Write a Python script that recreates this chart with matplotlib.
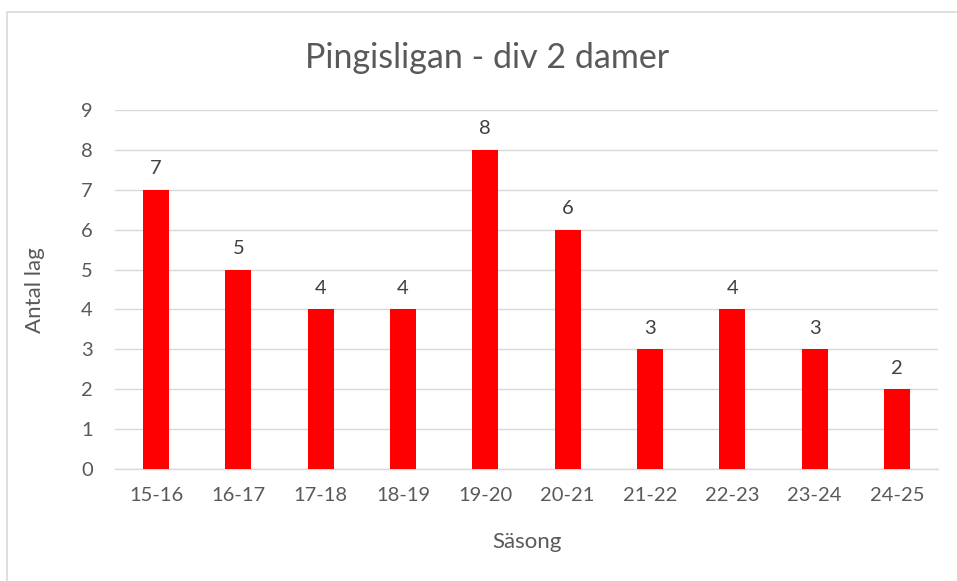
import matplotlib
matplotlib.use("Agg")
import matplotlib.pyplot as plt
from matplotlib.patches import Rectangle

seasons = ["15-16", "16-17", "17-18", "18-19", "19-20", "20-21", "21-22", "22-23", "23-24", "24-25"]
teams = [7, 5, 4, 4, 8, 6, 3, 4, 3, 2]
yticks = list(range(0, 10))

plt.rcParams['font.family'] = ['Lato', 'DejaVu Sans']
txt = '#595959'

W, H = 957, 581
fig = plt.figure(figsize=(W/100, H/100), dpi=100)
ax = fig.add_axes([115/W, (H-469)/H, 823/W, 359/H])

x = range(len(seasons))
bars = ax.bar(x, teams, width=0.316, color='#FF0000', zorder=3)
for xi, v in zip(x, teams):
    ax.annotate(str(v), (xi, v), xytext=(0, 9), textcoords='offset points',
                ha='center', va='bottom', fontsize=14.5, color='#404040')

ax.set_xlim(-0.5, len(seasons) - 0.5)
ax.set_ylim(0, 9)
ax.set_yticks(yticks)
ax.set_xticks(list(x))
ax.set_xticklabels(seasons)
ax.tick_params(axis='both', length=0, labelsize=14.5, labelcolor=txt)
ax.tick_params(axis='x', pad=13)
ax.tick_params(axis='y', pad=16)
ax.grid(axis='y', color='#D9D9D9', linewidth=1, zorder=0)
for s in ['top', 'right', 'left']:
    ax.spines[s].set_visible(False)
ax.spines['bottom'].set_color('#D9D9D9')
ax.spines['bottom'].set_linewidth(1)

fig.text(526.5/W, 1 - 542/H, 'Säsong', ha='center', va='center', fontsize=16, color=txt)
fig.text(35/W, 1 - 290/H, 'Antal lag', ha='center', va='center', rotation=90,
         fontsize=16, color=txt)
fig.text(487/W, 1 - 58/H, 'Pingisligan - div 2 damer', ha='center', va='center',
         fontsize=24.5, color=txt)

fig.add_artist(Rectangle((7.5/W, -0.1), 1.2, 1.1 - 12.5/H, transform=fig.transFigure,
                         fill=False, edgecolor='#D9D9D9', linewidth=1.2))

fig.savefig('out.png', dpi=100, facecolor='white')
